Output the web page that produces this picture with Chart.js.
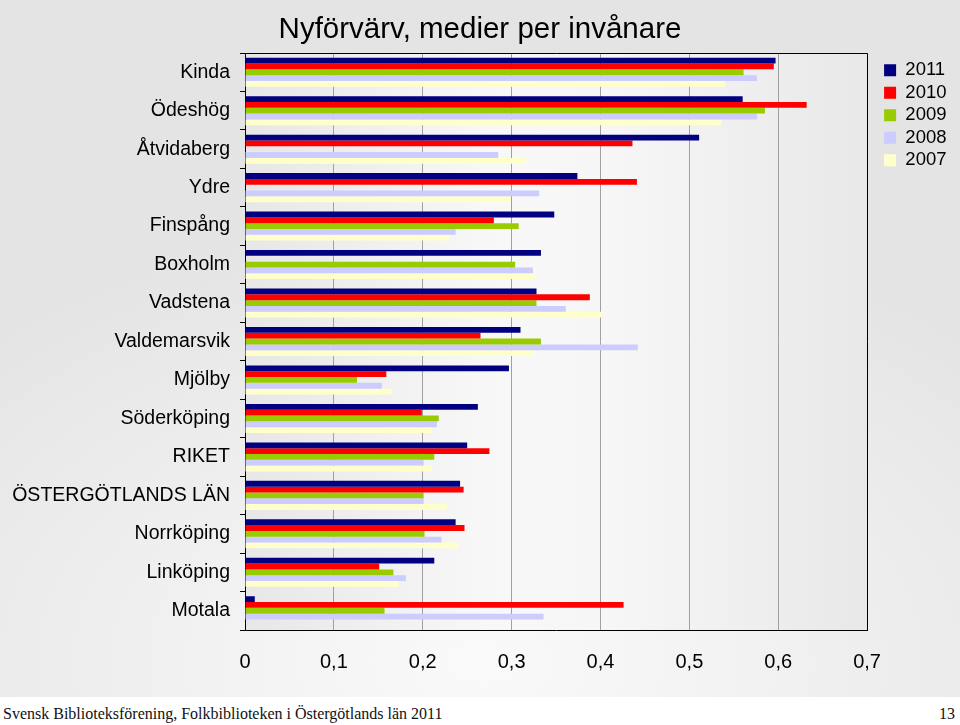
<!DOCTYPE html>
<html>
<head>
<meta charset="utf-8">
<script src="https://cdn.jsdelivr.net/npm/chart.js@4.4.1/dist/chart.umd.min.js"></script>
<style>
    body { margin: 0; background: #fff; }
    #wrap {
        width: 960px; height: 697px;
        background: radial-gradient(ellipse 75% 65% at 50% 95%, #fafafa 0%, #eeeeee 55%, #e4e4e4 100%);
    }
    #footer {
        position: relative; height: 28px; background: #fff;
        font-family: "Liberation Serif", serif; font-size: 16px; color: #111;
    }
    #footer .left { position: absolute; left: 3px; top: 8px; }
    #footer .right { position: absolute; right: 5px; top: 8px; }
</style>
</head>
<body>
<div id="wrap"><canvas id="barChart" width="960" height="697"></canvas></div>
<div id="footer">
    <span class="left">Svensk Biblioteksförening, Folkbiblioteken i Östergötlands län 2011</span>
    <span class="right">13</span>
</div>
<script>
const categories = ['Kinda', 'Ödeshög', 'Åtvidaberg', 'Ydre', 'Finspång', 'Boxholm', 'Vadstena',
    'Valdemarsvik', 'Mjölby', 'Söderköping', 'RIKET', 'ÖSTERGÖTLANDS LÄN', 'Norrköping', 'Linköping', 'Motala'];
const seriesNames = ['2011', '2010', '2009', '2008', '2007'];
const values2011 = [0.597, 0.560, 0.511, 0.374, 0.348, 0.333, 0.328, 0.310, 0.297, 0.262, 0.250, 0.242, 0.237, 0.213, 0.011];
const values2010 = [0.595, 0.632, 0.436, 0.441, 0.280, null, 0.388, 0.265, 0.159, 0.199, 0.275, 0.246, 0.247, 0.151, 0.426];
const values2009 = [0.561, 0.585, null, null, 0.308, 0.304, 0.328, 0.333, 0.126, 0.218, 0.213, 0.201, 0.202, 0.167, 0.157];
const values2008 = [0.576, 0.576, 0.285, 0.331, 0.237, 0.324, 0.361, 0.442, 0.154, 0.216, 0.201, 0.201, 0.221, 0.181, 0.336];
const values2007 = [0.540, 0.536, 0.315, 0.299, 0.230, 0.327, 0.402, 0.325, 0.165, 0.210, 0.210, 0.227, 0.240, 0.173, null];
const xTickLabels = ['0', '0,1', '0,2', '0,3', '0,4', '0,5', '0,6', '0,7'];

const seriesColors = ['#000080', '#ff0000', '#99cc00', '#ccccff', '#ffffcc'];
const allValues = [values2011, values2010, values2009, values2008, values2007];

// plot background gradient, black frame on top/right, legend/title nudges
const plotFrame = {
    id: 'plotFrame',
    afterLayout(chart) {
        const lg = chart.legend;
        lg.left += 13;
        lg.right += 13;
        lg.top += 4;
        lg.bottom += 4;
        chart.titleBlock.right = chart.width;
    },
    beforeDraw(chart) {
        const ctx = chart.ctx;
        const a = chart.chartArea;
        const g = ctx.createLinearGradient(a.left, 0, a.right, 0);
        g.addColorStop(0, '#e7e7e7');
        g.addColorStop(0.4, '#f8f8f8');
        g.addColorStop(0.6, '#f6f6f6');
        g.addColorStop(1, '#e8e8e8');
        ctx.save();
        ctx.fillStyle = g;
        ctx.fillRect(a.left, a.top, a.right - a.left, a.bottom - a.top);
        ctx.restore();
    },
    afterDraw(chart) {
        const ctx = chart.ctx;
        const a = chart.chartArea;
        ctx.save();
        ctx.strokeStyle = '#000';
        ctx.lineWidth = 1;
        ctx.beginPath();
        ctx.moveTo(a.left, Math.round(a.top) + 0.5);
        ctx.lineTo(Math.round(a.right) + 0.5, Math.round(a.top) + 0.5);
        ctx.lineTo(Math.round(a.right) + 0.5, a.bottom);
        ctx.stroke();
        ctx.restore();
    }
};

const datasets = seriesNames.map((name, i) => ({
    label: name,
    data: allValues[i],
    backgroundColor: seriesColors[i],
    borderWidth: 0,
    categoryPercentage: 0.755,
    barPercentage: 1
}));

const ctx = document.getElementById('barChart').getContext('2d');
const barChart = new Chart(ctx, {
    type: 'bar',
    data: { labels: categories, datasets: datasets },
    options: {
        indexAxis: 'y',
        responsive: false,
        animation: false,
        layout: { padding: { left: 0, right: 16.5, top: 0, bottom: 0 } },
        plugins: {
            title: {
                display: true,
                text: 'Nyförvärv, medier per invånare',
                color: '#000',
                font: { family: 'Liberation Sans, Arial, sans-serif', size: 29.5, weight: 'normal' },
                padding: { top: 12, bottom: 5.6 }
            },
            legend: {
                position: 'right',
                align: 'start',
                fullSize: false,
                labels: {
                    boxWidth: 12,
                    boxHeight: 12,
                    padding: 4,
                    color: '#000',
                    font: { family: 'Liberation Sans, Arial, sans-serif', size: 18.5 }
                }
            },
            tooltip: { enabled: false }
        },
        scales: {
            x: {
                min: 0,
                max: 0.7,
                afterFit: scale => { scale.height = 67; },
                ticks: {
                    stepSize: 0.1,
                    padding: 20,
                    color: '#000',
                    font: { family: 'Liberation Sans, Arial, sans-serif', size: 20 },
                    callback: (value, index) => xTickLabels[index]
                },
                grid: { color: '#a0a0a0', drawTicks: false },
                border: { color: '#000', width: 1 }
            },
            y: {
                afterFit: scale => { scale.width = 245; },
                ticks: {
                    padding: 10,
                    color: '#000',
                    font: { family: 'Liberation Sans, Arial, sans-serif', size: 19.5 }
                },
                grid: { color: '#000', drawOnChartArea: false, drawTicks: true, tickLength: 5 },
                border: { color: '#000', width: 1 }
            }
        }
    },
    plugins: [plotFrame]
});
</script>
</body>
</html>
